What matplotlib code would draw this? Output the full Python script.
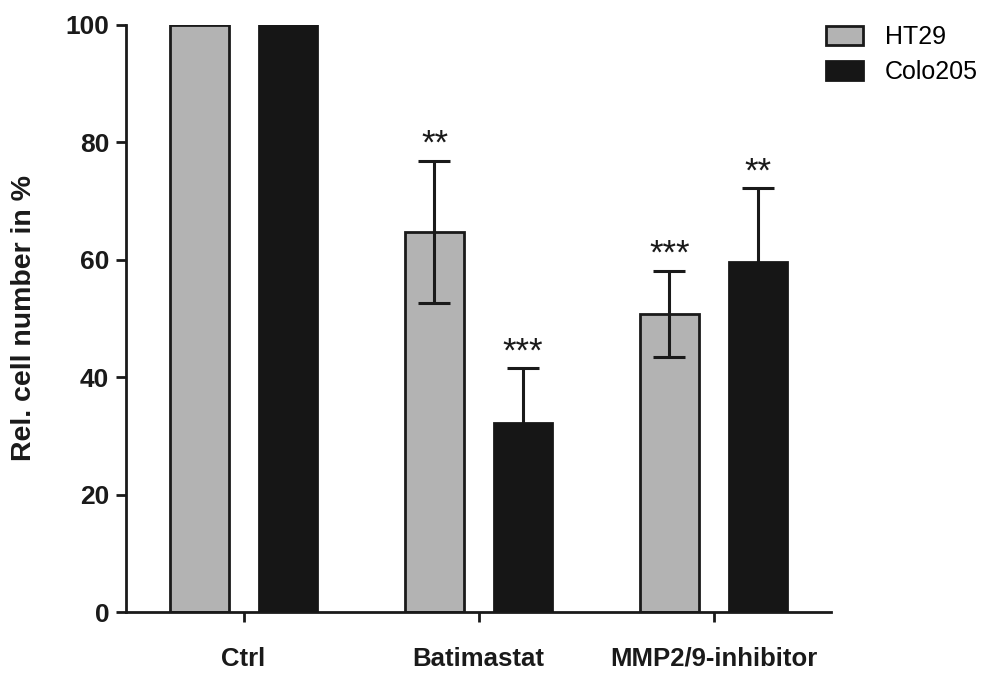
import numpy as np
import matplotlib
matplotlib.use('Agg')
import matplotlib.pyplot as plt

plt.rcParams['font.family'] = ['Liberation Sans', 'DejaVu Sans']

groups = ['Ctrl', 'Batimastat', 'MMP2/9-inhibitor']
ht29_mean = [100, 64.8, 50.8]
ht29_err = [0, 12.1, 7.3]
ht29_sig = ['', '**', '***']
colo_mean = [100, 32.2, 59.7]
colo_err = [0, 9.3, 12.5]
colo_sig = ['', '***', '**']

x = np.arange(len(groups))
w = 0.247
off = 0.1875

fig = plt.figure(figsize=(9.87, 6.73), dpi=100)
ax = fig.add_axes([0.1277, 0.0906, 0.842 - 0.1277, 0.9629 - 0.0906])

ax.bar(x - off, ht29_mean, w, color='#b3b3b3', edgecolor='#1a1a1a', linewidth=2, label='HT29', zorder=2)
ax.bar(x + off, colo_mean, w, color='#161616', edgecolor='#161616', linewidth=2, label='Colo205', zorder=4)

for pos, m, e, s in [(x - off, ht29_mean, ht29_err, ht29_sig), (x + off, colo_mean, colo_err, colo_sig)]:
    for xi, mi, ei, si in zip(pos, m, e, s):
        if ei == 0:
            continue
        ax.errorbar(xi, mi, yerr=ei, fmt='none', ecolor='#1a1a1a', elinewidth=2.2,
                    capsize=11.5, capthick=2.2, zorder=3)
        ax.annotate(si, (xi, mi + ei), xytext=(0, 0), textcoords='offset points',
                    ha='center', va='bottom', fontsize=25, color='#1a1a1a')

ax.set_xlim(-0.5, 2.5)
ax.set_ylim(0, 100)
ax.set_yticks([0, 20, 40, 60, 80, 100])
ax.set_xticks(x)
ax.set_xticklabels(groups)
for sp in ['top', 'right']:
    ax.spines[sp].set_visible(False)
for sp in ['left', 'bottom']:
    ax.spines[sp].set_linewidth(2)
    ax.spines[sp].set_color('#1a1a1a')
ax.tick_params(axis='y', length=7, width=2, pad=5, labelsize=19, colors='#1a1a1a')
ax.tick_params(axis='x', length=7, width=2, pad=18, labelsize=18.5, colors='#1a1a1a')
for lab in ax.get_xticklabels() + ax.get_yticklabels():
    lab.set_fontweight('bold')

ax.set_ylabel('Rel. cell number in %', fontsize=20.5, fontweight='bold', color='#1a1a1a')
ax.yaxis.set_label_coords(-0.126, 0.5)

ax.legend(loc='upper left', bbox_to_anchor=(826 / 987, 1 - 25 / 673), bbox_transform=fig.transFigure,
          frameon=False, fontsize=18, borderpad=0, borderaxespad=0, handlelength=1.5,
          handleheight=0.78, handletextpad=0.85, labelspacing=0.45)

fig.savefig('out.png', dpi=100)
